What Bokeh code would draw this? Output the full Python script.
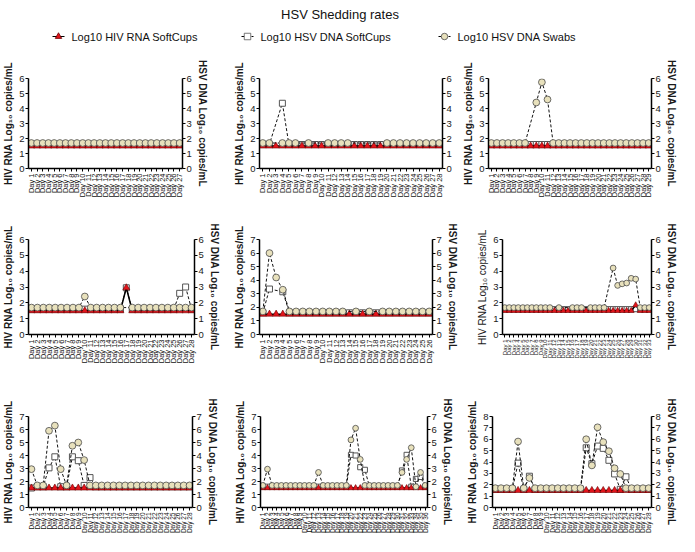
import math
from bokeh.plotting import figure
from bokeh.models import Range1d, FactorRange, LinearAxis, FixedTicker, Label
from bokeh.layouts import column, row
from bokeh.embed import file_html
from bokeh.resources import INLINE

NAN = float("nan")
FONT = "Liberation Sans"

TITLE = "HSV Shedding rates"
SERIES = ["Log10 HIV RNA SoftCups", "Log10 HSV DNA SoftCups", "Log10 HSV DNA Swabs"]
LEFT_LABEL = "HIV RNA Log\u2081\u2080 copies/mL"
RIGHT_LABEL = "HSV DNA Log\u2081\u2080 copies/mL"

DAY_LABELS = ["Day 1", "Day 2", "Day 3", "Day 4", "Day 5", "Day 6", "Day 7", "Day 8", "Day 9",
              "Day 10", "Day 11", "Day 12", "Day 13", "Day 14", "Day 15", "Day 16", "Day 17",
              "Day 18", "Day 19", "Day 20", "Day 21", "Day 22", "Day 23", "Day 24", "Day 25",
              "Day 26", "Day 27", "Day 28", "Day 29", "Day 30", "Day 31", "Day 32", "Day 33",
              "Day 34", "Day 35", "Day 36"]

PID_NAMES = ["PID 1", "PID 2", "PID 3", "PID 4", "PID 5", "PID 6", "PID 7", "PID 8", "PID 9"]
PID_PCT = ["0 %", "4 %", "10 %", "14 %", "15%", "18 %", "29%", "31%", "36%"]
PID_YMAX = [6, 6, 6, 6, 7, 6, 7, 7, 8]
PID_STAR = [False, False, False, False, False, True, True, False, False]

# ---- PID 1 (27 days)
pid1_hiv = [1.5, 1.5, 1.5, 1.5, 1.5, 1.5, 1.5, 1.5, 1.5, 1.5,
            1.5, 1.5, 1.5, 1.5, 1.5, 1.5, 1.5, 1.5, 1.5, 1.5,
            1.5, 1.5, 1.5, 1.5, 1.5, 1.5, 1.5]
pid1_sc = [1.6, 1.6, 1.6, 1.6, 1.6, 1.6, 1.6, 1.6, 1.6, 1.6,
           1.6, 1.6, 1.6, 1.6, 1.6, 1.6, 1.6, 1.6, 1.6, 1.6,
           1.6, 1.6, 1.6, 1.6, 1.6, 1.6, 1.6]
pid1_sw = [1.7, 1.7, 1.7, 1.7, 1.7, 1.7, 1.7, 1.7, 1.7, 1.7,
           1.7, 1.7, 1.7, 1.7, 1.7, 1.7, 1.7, 1.7, 1.7, 1.7,
           1.7, 1.7, 1.7, 1.7, 1.7, 1.7, 1.7]

# ---- PID 2 (28 days)
pid2_hiv = [1.5, 1.5, 1.5, 1.5, 1.5, 1.5, 1.5, 1.5, 1.5, 1.5,
            1.5, 1.5, 1.5, 1.5, 1.5, 1.5, 1.5, 1.5, 1.5, 1.5,
            1.5, 1.5, 1.5, 1.5, 1.5, 1.5, 1.5, 1.5]
pid2_sc = [1.6, 1.6, NAN, 4.35, 1.6, 1.6, 1.6, 1.6, 1.6, 1.6,
           1.6, 1.6, 1.6, 1.6, 1.6, 1.6, 1.6, 1.6, 1.6, 1.6,
           1.6, 1.6, 1.6, 1.6, 1.6, 1.6, 1.6, 1.6]
pid2_sw = [1.7, 1.7, NAN, 1.7, 1.7, 1.7, NAN, 1.7, NAN, NAN,
           1.7, 1.7, 1.7, 1.7, NAN, NAN, NAN, NAN, NAN, 1.7,
           1.7, 1.7, 1.7, 1.7, 1.7, 1.7, 1.7, 1.7]

# ---- PID 3 (29 days)
pid3_hiv = [1.5, 1.5, 1.5, 1.5, 1.5, 1.5, 1.5, 1.5, 1.5, 1.5,
            1.5, 1.5, 1.5, 1.5, 1.5, 1.5, 1.5, 1.5, 1.5, 1.5,
            1.5, 1.5, 1.5, 1.5, 1.5, 1.5, 1.5, 1.5, 1.5]
pid3_sc = [1.6, 1.6, 1.6, 1.6, 1.6, 1.6, 1.6, 1.6, 1.6, 1.6,
           1.6, 1.6, 1.6, 1.6, 1.6, 1.6, 1.6, 1.6, 1.6, 1.6,
           1.6, 1.6, 1.6, 1.6, 1.6, 1.6, 1.6, 1.6, 1.6]
pid3_sw = [1.7, 1.7, 1.7, 1.7, 1.7, 1.7, 1.7, NAN, 4.4, 5.75,
           4.6, 1.7, 1.7, 1.7, 1.7, 1.7, 1.7, 1.7, 1.7, 1.7,
           1.7, 1.7, 1.7, 1.7, 1.7, 1.7, 1.7, 1.7, 1.7]

# ---- PID 4 (28 days)
pid4_hiv = [1.5, 1.5, 1.5, 1.5, 1.5, 1.5, 1.5, 1.5, 1.5, 1.5,
            1.5, 1.5, 1.5, 1.5, 1.5, 1.5, 2.95, 1.5, 1.5, 1.5,
            1.5, 1.5, 1.5, 1.5, 1.5, 1.5, 1.5, 1.5]
pid4_sc = [1.6, 1.6, 1.6, 1.6, 1.6, 1.6, 1.6, 1.6, 1.6, 1.6,
           1.6, 1.6, 1.6, 1.6, 1.6, 1.6, 2.95, 1.6, 1.6, 1.6,
           1.6, 1.6, 1.6, 1.6, 1.6, 2.6, 3.0, 1.6]
pid4_sw = [1.7, 1.7, 1.7, 1.7, 1.7, 1.7, 1.7, 1.7, 1.7, 2.4,
           1.7, 1.7, 1.7, 1.7, 1.7, 1.7, NAN, 1.7, 1.7, 1.7,
           1.7, 1.7, 1.7, 1.7, 1.7, 1.7, 1.7, 1.7]

# ---- PID 5 (26 days)
pid5_hiv = [1.5, 1.5, 1.5, 1.5, 1.5, 1.5, 1.5, 1.5, 1.5, 1.5,
            1.5, 1.5, 1.5, 1.5, 1.5, 1.5, 1.5, 1.5, 1.5, 1.5,
            1.5, 1.5, 1.5, 1.5, 1.5, 1.5]
pid5_sc = [1.6, 3.35, NAN, 3.15, 1.6, 1.6, 1.6, 1.6, 1.6, 1.6,
           1.6, 1.6, 1.6, 1.6, 1.6, 1.6, 1.6, 1.6, 1.6, 1.6,
           1.6, 1.6, 1.6, 1.6, 1.6, 1.6]
pid5_sw = [1.7, 6.0, 4.2, 3.3, 1.7, 1.7, 1.7, 1.7, 1.7, 1.7,
           1.7, 1.7, 1.7, NAN, 1.7, NAN, 1.7, NAN, 1.7, 1.7,
           1.7, 1.7, 1.7, 1.7, 1.7, 1.7]

# ---- PID 6 (33 days)
pid6_hiv = [1.5, 1.5, 1.5, 1.5, 1.5, 1.5, 1.5, 1.5, 1.5, 1.5,
            1.5, 1.5, 1.5, 1.5, 1.5, 1.5, 1.5, 1.5, 1.5, 1.5,
            1.5, 1.5, 1.5, 1.5, 1.5, 1.5, 1.5, 1.5, 1.5, 1.85,
            1.5, 1.5, 1.5]
pid6_sc = [1.6, 1.6, 1.6, 1.6, 1.6, 1.6, 1.6, 1.6, 1.6, 1.6,
           1.6, 1.6, 1.6, 1.6, 1.6, 1.6, 1.6, 1.6, 1.6, 1.6,
           1.6, 1.6, 1.6, 1.6, 1.6, 1.6, 1.6, 1.6, 1.6, 1.6,
           1.6, 1.6, 1.6]
pid6_sw = [1.7, 1.7, 1.7, 1.7, 1.7, 1.7, 1.7, 1.7, 1.7, 1.7,
           1.7, NAN, 1.7, NAN, NAN, 1.7, 1.7, 1.7, NAN, 1.7,
           1.7, 1.7, 1.7, NAN, 4.2, 3.1, 3.2, 3.25, 3.55, 3.5,
           1.7, 1.7, 1.7]

# ---- PID 7 (28 days)
pid7_hiv = [1.5, 1.5, 1.5, 1.5, 1.5, 1.5, 1.5, 1.5, 1.5, 1.5,
            1.5, 1.5, 1.5, 1.5, 1.5, 1.5, 1.5, 1.5, 1.5, 1.5,
            1.5, 1.5, 1.5, 1.5, 1.5, 1.5, 1.5, 1.5]
pid7_sc = [1.5, 1.6, 1.6, 3.05, 3.9, 1.6, 1.6, 3.9, 3.6, 1.7,
           2.3, 1.6, 1.6, 1.6, 1.6, 1.6, 1.6, 1.6, 1.6, 1.6,
           1.6, 1.6, 1.6, 1.6, 1.6, 1.6, 1.6, 1.6]
pid7_sw = [2.95, 1.7, 1.7, 5.9, 6.3, 2.95, 1.7, 4.75, 5.0, 3.65,
           1.7, 1.7, 1.7, 1.7, 1.7, 1.7, 1.7, 1.7, 1.7, 1.7,
           1.7, 1.7, 1.7, 1.7, 1.7, 1.7, 1.7, 1.7]

# ---- PID 8 (36 days)
pid8_hiv = [1.5, 1.5, 1.5, 1.5, 1.5, 1.5, 1.5, 1.5, 1.5, 1.5,
            1.5, 1.5, 1.5, 1.5, 1.5, 1.5, 1.5, 1.5, 1.5, 1.5,
            1.5, 1.5, 1.5, 1.5, 1.5, 1.5, 1.5, 1.5, 1.5, 1.5,
            1.5, 1.5, 1.5, 1.5, 1.5, 1.5]
pid8_sc = [1.6, 1.6, 1.6, 1.6, 1.6, 1.6, 1.6, 1.6, 1.6, 1.6,
           1.6, 1.6, 1.6, 1.6, 1.6, 1.6, 1.6, 1.6, 1.6, 4.05,
           4.0, 3.1, 2.9, 1.6, 1.6, 1.6, 1.6, 1.6, 1.6, 1.6,
           2.85, 4.05, 1.6, 2.2, 2.35, 1.6]
pid8_sw = [1.7, 2.95, 1.7, 1.7, 1.7, 1.7, 1.7, 1.7, 1.7, 1.7,
           1.7, 1.7, 2.7, 1.7, 1.7, 1.7, 1.7, 1.7, 1.7, 5.2,
           6.1, 3.7, 1.7, 1.7, 1.7, 1.7, 1.7, 1.7, 1.7, 1.7,
           2.7, 3.7, 4.6, 1.6, 2.7, 1.7]

# ---- PID 9 (28 days)
pid9_hiv = [1.5, 1.5, 1.5, 1.5, 1.5, 1.5, 1.5, 1.5, 1.5, 1.5,
            1.5, 1.5, 1.5, 1.5, 1.5, 1.5, 1.5, 1.5, 1.5, 1.5,
            1.5, 1.5, 1.5, 1.5, 1.5, 1.5, 1.5, 1.5]
pid9_sc = [1.6, 1.6, 1.6, 1.6, 3.9, 1.6, 2.75, 1.6, 1.6, 1.6,
           1.6, 1.6, 1.6, 1.6, 1.6, 1.6, 5.25, 3.85, 5.4, 5.2,
           4.15, 2.95, 1.6, 2.7, 1.6, 1.6, 1.6, 1.6]
pid9_sw = [1.7, 1.7, 1.7, 1.7, 5.8, 1.7, 2.6, 1.7, 1.7, 1.7,
           1.7, 1.7, 1.7, 1.7, 1.7, 1.7, 6.0, 3.7, 7.05, 5.75,
           4.95, 3.45, 2.95, 1.7, 1.7, 1.7, 1.7, 1.7]

HIV = [pid1_hiv, pid2_hiv, pid3_hiv, pid4_hiv, pid5_hiv, pid6_hiv, pid7_hiv, pid8_hiv, pid9_hiv]
SC = [pid1_sc, pid2_sc, pid3_sc, pid4_sc, pid5_sc, pid6_sc, pid7_sc, pid8_sc, pid9_sc]
SW = [pid1_sw, pid2_sw, pid3_sw, pid4_sw, pid5_sw, pid6_sw, pid7_sw, pid8_sw, pid9_sw]

# ---------------- layout (page pixel positions) ----------------
COLS = [(8, 238), (238, 468), (468, 687)]
ROWS = [(68, 225), (225, 385), (385, 544)]
# col, row, frame L, R, T, B, name x, pct right x, text y, x-label font px, marker scale
GEOM = [
    (0, 0, 36, 190, 85, 176, 40, 178, 77, 7.5, 1.0),
    (1, 0, 267, 450, 83, 182, 275, 442, 75, 7.5, 1.0),
    (2, 0, 496, 659, 86, 180, 502, 659, 77, 7.5, 1.0),
    (0, 1, 36, 202, 247, 345, 38, 192, 238, 7.5, 1.0),
    (1, 1, 267, 440, 246, 342, 269, 433, 237, 7.5, 1.0),
    (2, 1, 510, 659, 245, 358, 515, 659, 237, 6, 0.85),
    (0, 2, 36, 200, 424, 516, 36, 193, 415, 6.5, 1.0),
    (1, 2, 268, 435, 424, 516, 277, 423, 414, 6.5, 0.85),
    (2, 2, 500, 659, 423, 516, 507, 659, 408, 6.5, 1.0),
]
STAR_X = {5: 547, 6: 61}
RIGHT_LABEL_ON = [True, False, True, True, True, True, True, True, True]

RED = "#E3141B"
BEIGE = "#E8E1BC"


def valid(days, vals):
    xs = [d for d, v in zip(days, vals) if not math.isnan(v)]
    ys = [v for v in vals if not math.isnan(v)]
    return xs, ys


def style_axis(ax, label_size="10px", bold=True):
    ax.axis_line_width = 1.5
    ax.axis_line_color = "black"
    ax.major_tick_in = 0
    ax.major_tick_out = 3
    ax.major_tick_line_color = "black"
    ax.minor_tick_line_color = None
    ax.major_label_text_font = FONT
    ax.major_label_text_font_size = "9.5px"
    ax.major_label_text_color = "#1a1a1a"
    ax.major_label_standoff = 1
    ax.axis_label_text_font = FONT
    ax.axis_label_text_font_size = label_size
    ax.axis_label_text_font_style = "bold" if bold else "normal"
    ax.axis_label_text_color = "#1a1a1a"
    ax.axis_label_standoff = 2


def make_panel(i):
    col, rw, L, R, T, B, nx, px, ty, xfs, ms = GEOM[i]
    x0, x1 = COLS[col]
    y0, y1 = ROWS[rw]
    n = len(HIV[i])
    days = DAY_LABELS[:n]
    ymax = PID_YMAX[i]
    p = figure(width=x1 - x0, height=y1 - y0, title=None,
               x_range=FactorRange(factors=days), y_range=Range1d(0, ymax),
               output_backend="svg", toolbar_location=None,
               min_border_left=L - x0, min_border_right=x1 - R,
               min_border_top=T - y0, min_border_bottom=y1 - B)
    p.outline_line_color = None
    p.xgrid.grid_line_color = None
    p.ygrid.grid_line_color = None
    p.background_fill_color = "white"
    p.border_fill_color = "white"

    ticks = list(range(ymax + 1))
    ly = p.yaxis[0]
    ly.ticker = FixedTicker(ticks=ticks)
    ly.axis_label = LEFT_LABEL
    style_axis(ly, bold=(i != 5))

    p.extra_y_ranges = {"r": Range1d(0, ymax)}
    ry = LinearAxis(y_range_name="r", ticker=FixedTicker(ticks=ticks))
    if RIGHT_LABEL_ON[i]:
        ry.axis_label = RIGHT_LABEL
    style_axis(ry)
    p.add_layout(ry, "right")

    xa = p.xaxis[0]
    style_axis(xa)
    xa.major_label_orientation = math.pi / 2
    xa.major_label_text_font_size = f"{xfs}px"
    xa.major_label_text_color = "#111111"
    xa.major_label_standoff = 2

    # HSV DNA SoftCups (drawn first, beneath)
    sx, sy = valid(days, SC[i])
    p.line(sx, sy, line_color="#111111", line_width=1, line_dash="3 2")
    p.scatter(sx, sy, marker="square", size=6 * ms, fill_color="white",
              line_color="#555555", line_width=1)
    # HIV RNA SoftCups
    hx, hy = valid(days, HIV[i])
    p.line(hx, hy, line_color="black", line_width=1.5)
    p.scatter(hx, hy, marker="triangle", size=7 * ms, fill_color=RED,
              line_color="#6b0000", line_width=0.6)
    # HSV DNA Swabs
    wx, wy = valid(days, SW[i])
    p.line(wx, wy, line_color="#111111", line_width=1, line_dash="3 2")
    p.scatter(wx, wy, marker="circle", size=6.8 * ms, fill_color=BEIGE,
              line_color="#4a4a4a", line_width=0.8)

    p.add_layout(Label(x=0, y=ymax, x_offset=nx - L, y_offset=T - ty,
                       text=PID_NAMES[i], text_font=FONT, text_font_size="10.5px",
                       text_font_style="bold", text_color="#111111",
                       text_align="left", text_baseline="middle"))
    p.add_layout(Label(x=n, y=ymax, x_offset=px - R, y_offset=T - ty,
                       text=PID_PCT[i], text_font=FONT, text_font_size="10.5px",
                       text_font_style="bold", text_color="#111111",
                       text_align="right", text_baseline="middle"))
    if PID_STAR[i]:
        p.add_layout(Label(x=0, y=ymax, x_offset=STAR_X[i] - L, y_offset=T - ty + 1,
                           text="\u2605", text_font="DejaVu Sans", text_font_size="13px",
                           text_color="#E01515", text_align="center",
                           text_baseline="middle"))
    if i == 5:
        p.add_layout(Label(x=0, y=ymax / 2, x_offset=477 - L, y_offset=0,
                           text=RIGHT_LABEL, text_font=FONT, text_font_size="10px",
                           text_font_style="bold", text_color="#222222",
                           angle=-math.pi / 2, text_align="center",
                           text_baseline="middle"))
    return p


# ---------------- header (title + legend) ----------------
HW, HH = 679, 60
hdr = figure(width=HW, height=HH, title=None, x_range=Range1d(0, HW), y_range=Range1d(HH, 0),
             x_axis_type=None, y_axis_type=None, output_backend="svg",
             toolbar_location=None, min_border=0)
hdr.outline_line_color = None
hdr.xgrid.grid_line_color = None
hdr.ygrid.grid_line_color = None
hdr.add_layout(Label(x=HW / 2, y=14, text=TITLE, text_font=FONT, text_font_size="13px",
                     text_color="#111111", text_align="center", text_baseline="middle"))

LEG_X = [58, 247, 444]
LEG_Y = 36
leg_markers = ["triangle", "square", "circle"]
leg_fill = [RED, "white", BEIGE]
leg_line = ["#6b0000", "#555555", "#4a4a4a"]
leg_dash = ["solid", "3 2", "3 2"]
for k in range(3):
    cx = LEG_X[k]
    hdr.line([cx - 6, cx + 6], [LEG_Y, LEG_Y], line_color="black", line_width=1,
             line_dash=leg_dash[k])
    hdr.scatter([cx], [LEG_Y], marker=leg_markers[k], size=6.5, fill_color=leg_fill[k],
                line_color=leg_line[k], line_width=0.8)
    hdr.add_layout(Label(x=cx + 13, y=LEG_Y, text=SERIES[k], text_font=FONT,
                         text_font_size="11px", text_color="#111111",
                         text_align="left", text_baseline="middle"))

panels = [make_panel(i) for i in range(9)]
layout = column(hdr,
                row(panels[0], panels[1], panels[2], spacing=0),
                row(panels[3], panels[4], panels[5], spacing=0),
                row(panels[6], panels[7], panels[8], spacing=0),
                spacing=0)

open("out.html", "w").write(file_html(layout, INLINE))
